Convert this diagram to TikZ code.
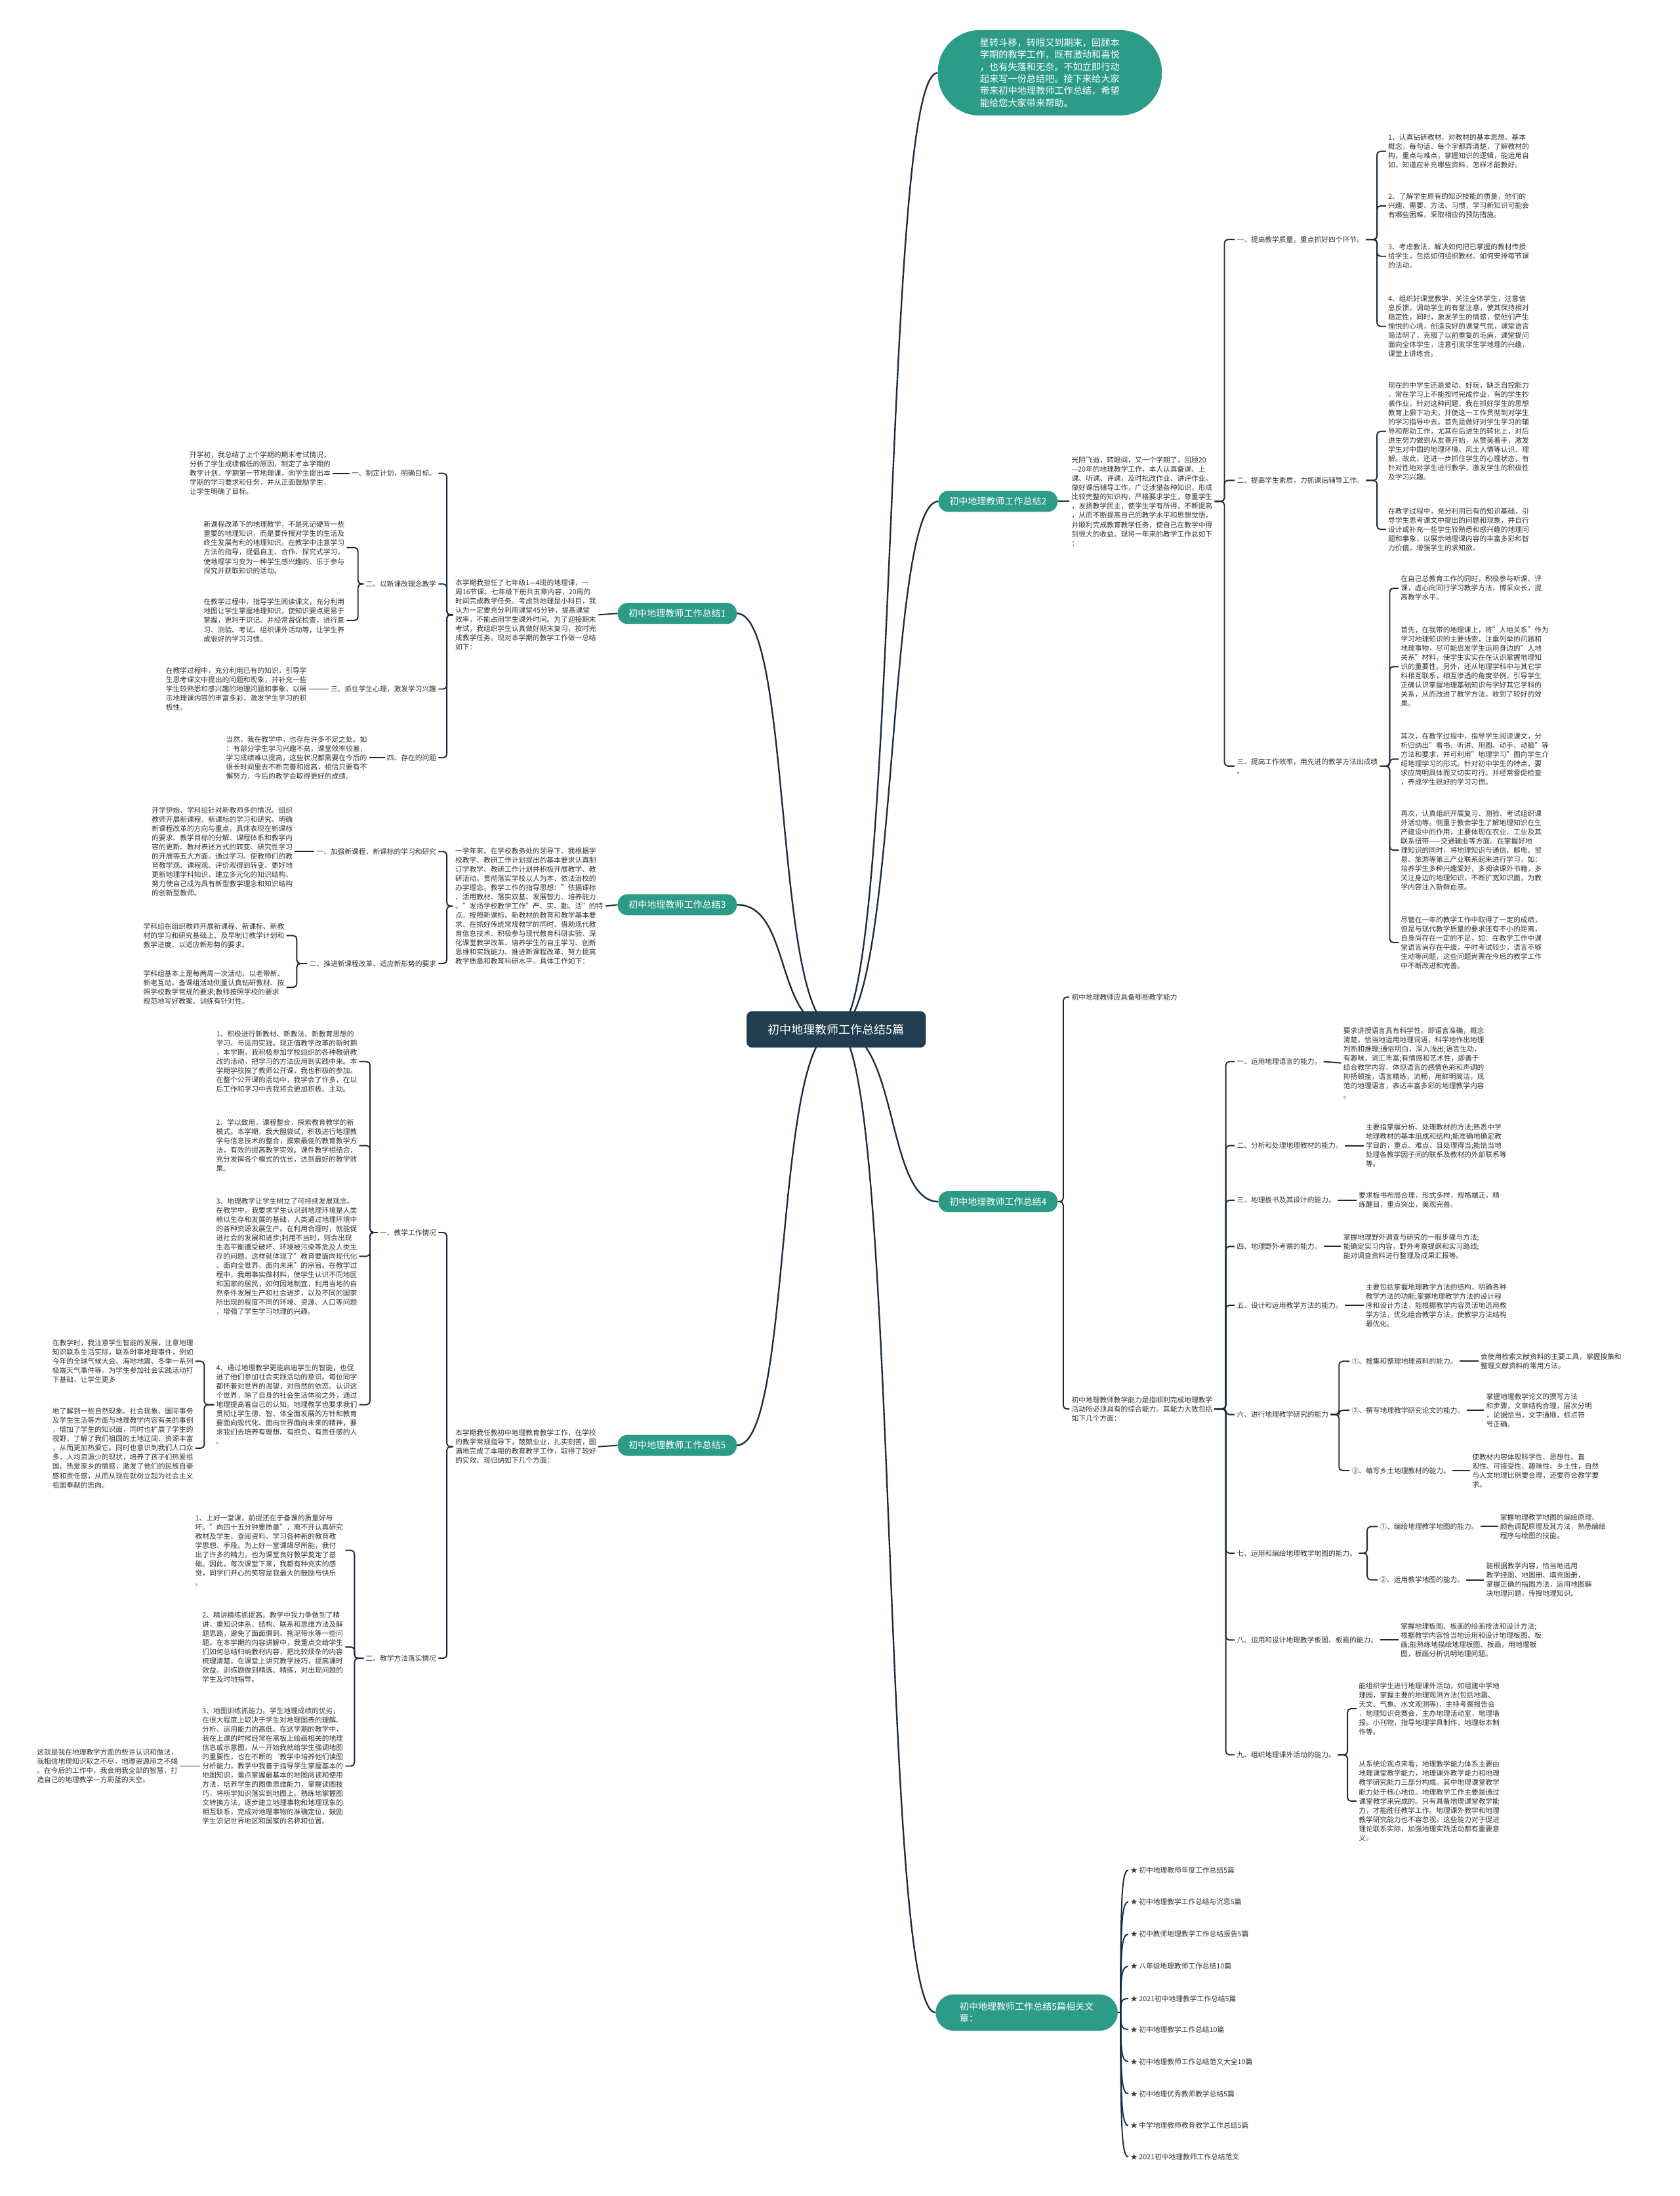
\documentclass[tikz,border=0pt]{standalone}
\usepackage{fontspec}
\setmainfont{Noto Sans CJK SC}
\usetikzlibrary{backgrounds}
\definecolor{mapink}{HTML}{333333}
\definecolor{mapline}{HTML}{1C2B39}
\definecolor{mapteal}{HTML}{2C9C89}
\definecolor{mapnavy}{HTML}{213D4F}
\tikzset{
  leaftext/.style={font=\fontsize{14.3}{18.7}\selectfont, text=mapink, align=left,
    inner xsep=1.5mm, inner ysep=0.5mm},
  tealbox/.style={fill=mapteal, text=white, rounded corners=7mm,
    font=\fontsize{18.7}{24.4}\selectfont, minimum width=85mm, minimum height=15mm,
    inner xsep=0mm, align=left},
  rootbox/.style={fill=mapnavy, text=white, rounded corners=4mm,
    font=\fontsize{24}{28}\selectfont, minimum width=128mm, minimum height=26mm},
  maplink/.style={draw=mapline, line width=0.9mm, rounded corners=2.5mm},
  mainlink/.style={draw=mapline, line width=1.1mm}
}
\begin{document}
\begin{tikzpicture}[x=1mm,y=-1mm]
  \useasboundingbox (0,0) rectangle (1199,1568);

  % root and first level
  \node[rootbox] (root) at (597,735) {初中地理教师工作总结5篇};
  \node[tealbox, minimum width=160mm, minimum height=61mm, rounded corners=30mm,
    font=\fontsize{18.9}{24.4}\selectfont] (intro) at (749.5,52)
    {星转斗移，转眼又到期末，回顾本\\学期的教学工作，既有激动和喜悦\\，也有失落和无奈。不如立即行动\\起来写一份总结吧。接下来给大家\\带来初中地理教师工作总结，希望\\能给您大家带来帮助。};
  \node[tealbox] (sum1) at (483.5,438) {初中地理教师工作总结1};
  \node[tealbox] (sum2) at (712.5,358) {初中地理教师工作总结2};
  \node[tealbox] (sum3) at (483.5,646) {初中地理教师工作总结3};
  \node[tealbox] (sum4) at (712.5,858) {初中地理教师工作总结4};
  \node[tealbox] (sum5) at (483.5,1032) {初中地理教师工作总结5};
  \node[tealbox, minimum width=130mm, minimum height=26mm, rounded corners=13mm] (rel) at (733,1437)
    {初中地理教师工作总结5篇相关文\\章：};

  % summary 1
  \node[leaftext, anchor=west] (b1intro) at (323.5,439) {本学期我担任了七年级1—4班的地理课，一\\周16节课。七年级下册共五章内容，20周的\\时间完成教学任务。考虑到地理是小科目，我\\认为一定要充分利用课堂45分钟，提高课堂\\效率，不能占用学生课外时间。为了迎接期末\\考试，我组织学生认真做好期末复习，按时完\\成教学任务。现对本学期的教学工作做一总结\\如下：};
  \node[leaftext, anchor=east] (b1l1) at (313,338) {一、制定计划，明确目标。};
  \node[leaftext, anchor=east] (b1l2) at (313,417) {二、以新课改理念教学};
  \node[leaftext, anchor=east] (b1l3) at (313,492) {三、抓住学生心理，激发学习兴趣};
  \node[leaftext, anchor=east] (b1l4) at (313,541) {四、存在的问题};
  \node[leaftext, anchor=east] (b1t1) at (237.5,338) {开学初，我总结了上个学期的期末考试情况，\\分析了学生成绩偏低的原因，制定了本学期的\\教学计划。学期第一节地理课，向学生提出本\\学期的学习要求和任务，并从正面鼓励学生，\\让学生明确了目标。};
  \node[leaftext, anchor=east] (b1t2a) at (247.5,391) {新课程改革下的地理教学，不是死记硬背一些\\重要的地理知识，而是要传授对学生的生活及\\终生发展有利的地理知识。在教学中注意学习\\方法的指导，提倡自主、合作、探究式学习，\\使地理学习变为一种学生感兴趣的、乐于参与\\探究并获取知识的活动。};
  \node[leaftext, anchor=east] (b1t2b) at (247.5,443) {在教学过程中，指导学生阅读课文，充分利用\\地图让学生掌握地理知识，使知识要点更易于\\掌握，更利于识记。并经常督促检查，进行复\\习、测验、考试、组织课外活动等，让学生养\\成很好的学习习惯。};
  \node[leaftext, anchor=east] (b1t3) at (220.5,492) {在教学过程中，充分利用已有的知识，引导学\\生思考课文中提出的问题和现象，并补充一些\\学生较熟悉和感兴趣的地理问题和事象，以展\\示地理课内容的丰富多彩，激发学生学习的积\\极性。};
  \node[leaftext, anchor=east] (b1t4) at (263.5,541) {当然，我在教学中，也存在许多不足之处。如\\：有部分学生学习兴趣不高，课堂效率较差，\\学习成绩难以提高，这些状况都需要在今后的\\很长时间里去不断完善和提高，相信只要有不\\懈努力，今后的教学会取得更好的成绩。};

  % summary 3
  \node[leaftext, anchor=west] (b3intro) at (323.5,647) {一学年来、在学校教务处的领导下、我根据学\\校教学、教研工作计划提出的基本要求认真制\\订学教学、教研工作计划并积极开展教学、教\\研活动。贯彻落实学校以人为本、依法治校的\\办学理念。教学工作的指导思想："依据课标\\、活用教材、落实双基、发展智力、培养能力\\。"发扬学校教学工作"严、实、勤、活"的特\\点。按照新课标、新教材的教育和教学基本要\\求、在抓好传统常规教学的同时、借助现代教\\育信息技术、积极参与现代教育科研实验、深\\化课堂教学改革、培养学生的自主学习、创新\\思维和实践能力、推进新课程改革、努力提高\\教学质量和教育科研水平。具体工作如下：};
  \node[leaftext, anchor=east] (b3l1) at (313,608) {一、加强新课程、新课标的学习和研究};
  \node[leaftext, anchor=east] (b3l2) at (313,688) {二、推进新课程改革、适应新形势的要求};
  \node[leaftext, anchor=east] (b3t1) at (210.5,608) {开学伊始、学科组针对新教师多的情况、组织\\教师开展新课程、新课标的学习和研究、明确\\新课程改革的方向与重点。具体表现在新课标\\的要求、教学目标的分解、课程体系和教学内\\容的更新、教材表述方式的转变、研究性学习\\的开展等五大方面。通过学习、使教师们的教\\育教学观、课程观、评价观得到转变、更好地\\更新地理学科知识、建立多元化的知识结构、\\努力使自己成为具有新型教学理念和知识结构\\的创新型教师。};
  \node[leaftext, anchor=east] (b3t2a) at (204.5,668) {学科组在组织教师开展新课程、新课标、新教\\材的学习和研究基础上、及早制订教学计划和\\教学进度、以适应新形势的要求。};
  \node[leaftext, anchor=east] (b3t2b) at (204.5,705) {学科组基本上是每两周一次活动、以老带新、\\新老互动。备课组活动侧重认真钻研教材、按\\照学校教学常规的要求;教师按照学校的要求\\规范地写好教案、训练有针对性。};

  % summary 5
  \node[leaftext, anchor=west] (b5intro) at (323.5,1033) {本学期我任教初中地理教育教学工作，在学校\\的教学常规指导下，兢兢业业，扎实刻苦，圆\\满地完成了本期的教育教学工作，取得了较好\\的实效。现归纳如下几个方面：};
  \node[leaftext, anchor=east] (b5l1) at (313,880) {一、教学工作情况};
  \node[leaftext, anchor=east] (b5l2) at (313,1184) {二、教学方法落实情况};
  \node[leaftext, anchor=east] (b5t1) at (256.5,758) {1、积极进行新教材、新教法、新教育思想的\\学习、与运用实践。现正值教学改革的新时期\\，本学期，我积极参加学校组织的各种教研教\\改的活动，把学习的方法应用到实践中来。本\\学期学校搞了教师公开课，我也积极的参加。\\在整个公开课的活动中，我学会了许多，在以\\后工作和学习中去我将会更加积极、主动。};
  \node[leaftext, anchor=east] (b5t2) at (256.5,818) {2、学以致用，课程整合，探索教育教学的新\\模式。本学期，我大胆尝试，积极进行地理教\\学与信息技术的整合，摸索最佳的教育教学方\\法，有效的提高教学实效。课件教学相结合，\\充分发挥各个模式的优长，达到最好的教学效\\果。};
  \node[leaftext, anchor=east] (b5t3) at (256.5,897) {3、地理教学让学生树立了可持续发展观念。\\在教学中，我要求学生认识到地理环境是人类\\赖以生存和发展的基础，人类通过地理环境中\\的各种资源发展生产。在利用合理时，就能促\\进社会的发展和进步;利用不当时，则会出现\\生态平衡遭受破坏、环境被污染等危及人类生\\存的问题。这样就体现了"教育要面向现代化\\、面向全世界、面向未来"的宗旨。在教学过\\程中，我用事实做材料，使学生认识不同地区\\和国家的居民，如何因地制宜，利用当地的自\\然条件发展生产和社会进步，以及不同的国家\\所出现的程度不同的环境、资源、人口等问题\\，增强了学生学习地理的兴趣。};
  \node[leaftext, anchor=east] (b5t4) at (256.5,1003) {4、通过地理教学更能启迪学生的智能，也促\\进了他们参加社会实践活动的意识。每位同学\\都怀着对世界的渴望，对自然的依恋。认识这\\个世界，除了自身的社会生活体验之外，通过\\地理提高着自己的认知。地理教学也要求我们\\贯彻让学生德、智、体全面发展的方针和教育\\要面向现代化、面向世界面向未来的精神，要\\求我们去培养有理想、有抱负、有责任感的人\\。};
  \node[leaftext, anchor=east] (b5t4a) at (139.5,972) {在教学时，我注意学生智能的发展，注意地理\\知识联系生活实际，联系时事地理事件，例如\\今年的全球气候大会、海地地震、冬季一系列\\极端天气事件等。为学生参加社会实践活动打\\下基础，让学生更多};
  \node[leaftext, anchor=east] (b5t4b) at (139.5,1034) {地了解到一些自然现象、社会现象、国际事务\\及学生生活等方面与地理教学内容有关的事例\\，增加了学生的知识面，同时也扩展了学生的\\视野，了解了我们祖国的土地辽阔、资源丰富\\，从而更加热爱它。同时也意识到我们人口众\\多，人均资源少的现状，培养了孩子们热爱祖\\国、热爱家乡的情感，激发了他们的民族自豪\\感和责任感，从而从现在就树立起为社会主义\\祖国奉献的志向。};
  \node[leaftext, anchor=east] (b5m1) at (246.5,1107) {1、上好一堂课，前提还在于备课的质量好与\\坏。"向四十五分钟要质量"，离不开认真研究\\教材及学生、查阅资料、学习各种新的教育教\\学思想、手段。为上好一堂课竭尽所能，我付\\出了许多的精力，也为课堂良好教学奠定了基\\础。因此，每次课堂下来，我都有种充实的感\\觉，同学们开心的笑容是我最大的鼓励与快乐\\。};
  \node[leaftext, anchor=east] (b5m2) at (246.5,1176) {2、精讲精练抓提高。教学中我力争做到了精\\讲，重知识体系、结构、联系和思维方法及解\\题思路，避免了面面俱到、拖泥带水等一些问\\题。在本学期的内容讲解中，我重点交给学生\\们如何总结归纳教材内容，把比较烦杂的内容\\梳理清楚。在课堂上讲究教学技巧，提高课时\\效益。训练题做到精选、精练，对出现问题的\\学生及时地指导。};
  \node[leaftext, anchor=east] (b5m3) at (246.5,1261) {3、地图训练抓能力。学生地理成绩的优劣，\\在很大程度上取决于学生对地理图表的理解、\\分析、运用能力的高低。在这学期的教学中，\\我在上课的时候经常在黑板上绘画相关的地理\\信息或示意图，从一开始我就给学生强调地图\\的重要性，也在不断的`教学中培养他们读图\\分析能力。教学中我善于指导学生掌握基本的\\地图知识，重点掌握最基本的地图阅读和使用\\方法，培养学生的图像思维能力，掌握读图技\\巧，将所学知识落实到地图上。熟练地掌握图\\文转换方法，逐步建立地理事物和地理现象的\\相互联系，完成对地理事物的准确定位，鼓励\\学生识记世界地区和国家的名称和位置。};
  \node[leaftext, anchor=east] (b5m3a) at (128.5,1261) {这就是我在地理教学方面的些许认识和做法，\\我相信地理知识取之不尽，地理资源用之不竭\\。在今后的工作中，我会用我全部的智慧，打\\造自己的地理教学一方蔚蓝的天空。};

  % summary 2
  \node[leaftext, anchor=west] (b2intro) at (763.5,358) {光阴飞逝，转眼间，又一个学期了，回顾20\\—20年的地理教学工作，本人认真备课、上\\课、听课、评课，及时批改作业、讲评作业，\\做好课后辅导工作，广泛涉猎各种知识，形成\\比较完整的知识构，严格要求学生，尊重学生\\，发扬教学民主，使学生学有所得，不断提高\\，从而不断提高自己的教学水平和思想觉悟，\\并顺利完成教育教学任务，使自己在教学中得\\到很大的收益。现将一年来的教学工作总如下\\：};
  \node[leaftext, anchor=west] (b2l1) at (881.5,171) {一、提高教学质量，重点抓好四个环节。};
  \node[leaftext, anchor=west] (b2l2) at (881.5,343) {二、提高学生素质，力抓课后辅导工作。};
  \node[leaftext, anchor=west] (b2l3) at (881.5,547) {三、提高工作效率，用先进的教学方法出成绩\\。};
  \node[leaftext, anchor=west] (b2t1a) at (989.5,108) {1、认真钻研教材，对教材的基本思想、基本\\概念，每句话、每个字都弄清楚，了解教材的\\构，重点与难点，掌握知识的逻辑，能运用自\\如，知道应补充哪些资料，怎样才能教好。};
  \node[leaftext, anchor=west] (b2t1b) at (989.5,147) {2、了解学生原有的知识技能的质量，他们的\\兴趣、需要、方法、习惯，学习新知识可能会\\有哪些困难，采取相应的预防措施。};
  \node[leaftext, anchor=west] (b2t1c) at (989.5,183) {3、考虑教法，解决如何把已掌握的教材传授\\给学生，包括如何组织教材、如何安排每节课\\的活动。};
  \node[leaftext, anchor=west] (b2t1d) at (989.5,233) {4、组织好课堂教学，关注全体学生，注意信\\息反馈，调动学生的有意注意，使其保持相对\\稳定性，同时，激发学生的情感，使他们产生\\愉悦的心境，创造良好的课堂气氛，课堂语言\\简洁明了，克服了以前重复的毛病，课堂提问\\面向全体学生，注意引发学生学地理的兴趣，\\课堂上讲练合。};
  \node[leaftext, anchor=west] (b2t2a) at (989.5,308) {现在的中学生还是爱动、好玩，缺乏自控能力\\，常在学习上不能按时完成作业，有的学生抄\\袭作业，针对这种问题，我在抓好学生的思想\\教育上狠下功夫，并使这一工作贯彻到对学生\\的学习指导中去。首先是做好对学生学习的辅\\导和帮助工作，尤其在后进生的转化上，对后\\进生努力做到从友善开始，从赞美着手，激发\\学生对中国的地理环境、风土人情等认识、理\\解。故此，还进一步抓住学生的心理状态，有\\针对性地对学生进行教学，激发学生的积极性\\及学习兴趣。};
  \node[leaftext, anchor=west] (b2t2b) at (989.5,378) {在教学过程中，充分利用已有的知识基础，引\\导学生思考课文中提出的问题和现象，并自行\\设计或补充一些学生较熟悉和感兴趣的地理问\\题和事象，以展示地理课内容的丰富多彩和智\\力价值，增强学生的求知欲。};
  \node[leaftext, anchor=west] (b2t3a) at (998.5,420) {在自己总教育工作的同时，积极参与听课、评\\课，虚心向同行学习教学方法，博采众长，提\\高教学水平。};
  \node[leaftext, anchor=west] (b2t3b) at (998.5,476) {首先，在我带的地理课上，将"人地关系"作为\\学习地理知识的主要线索，注重列举的问题和\\地理事物，尽可能启发学生运用身边的"人地\\关系"材料，使学生实实在在认识掌握地理知\\识的重要性。另外，还从地理学科中与其它学\\科相互联系，相互渗透的角度举例，引导学生\\正确认识掌握地理基础知识与学好其它学科的\\关系，从而改进了教学方法，收到了较好的效\\果。};
  \node[leaftext, anchor=west] (b2t3c) at (998.5,542) {其次，在教学过程中，指导学生阅读课文，分\\析归纳出"看书、听讲、用图、动手、动脑"等\\方法和要求，并可利用"地理学习"图向学生介\\绍地理学习的形式。针对初中学生的特点，要\\求应简明具体而又切实可行。并经常督促检查\\，养成学生很好的学习习惯。};
  \node[leaftext, anchor=west] (b2t3d) at (998.5,607) {再次，认真组织开展复习、测验、考试组织课\\外活动等。侧重于教会学生了解地理知识在生\\产建设中的作用，主要体现在农业、工业及其\\联系纽带——交通输业等方面。在掌握好地\\理知识的同时，将地理知识与通信、邮电、贸\\易、旅游等第三产业联系起来进行学习，如：\\培养学生多种兴趣爱好，多阅读课外书籍，多\\关注身边的地理知识，不断扩宽知识面，为教\\学内容注入新鲜血液。};
  \node[leaftext, anchor=west] (b2t3e) at (998.5,673) {尽管在一年的教学工作中取得了一定的成绩，\\但是与现代教学质量的要求还有不小的距离，\\自身尚存在一定的不足，如：在教学工作中课\\堂语言尚存在平缓，平时考试较少，语言不够\\生动等问题，这些问题尚需在今后的教学工作\\中不断改进和完善。};

  % summary 4
  \node[leaftext, anchor=west] (b4a) at (763.5,712) {初中地理教师应具备哪些教学能力};
  \node[leaftext, anchor=west] (b4b) at (763.5,1006) {初中地理教师教学能力是指顺利完成地理教学\\活动所必须具有的综合能力。其能力大致包括\\如下几个方面：};
  \node[leaftext, anchor=west] (b4l1) at (881.5,758) {一、运用地理语言的能力。};
  \node[leaftext, anchor=west] (b4l2) at (881.5,818) {二、分析和处理地理教材的能力。};
  \node[leaftext, anchor=west] (b4l3) at (881.5,857) {三、地理板书及其设计的能力。};
  \node[leaftext, anchor=west] (b4l4) at (881.5,890) {四、地理野外考察的能力。};
  \node[leaftext, anchor=west] (b4l5) at (881.5,932) {五、设计和运用教学方法的能力。};
  \node[leaftext, anchor=west] (b4l6) at (881.5,1010) {六、进行地理教学研究的能力};
  \node[leaftext, anchor=west] (b4l7) at (881.5,1109) {七、运用和编绘地理教学地图的能力。};
  \node[leaftext, anchor=west] (b4l8) at (881.5,1171) {八、运用和设计地理教学板图、板画的能力。};
  \node[leaftext, anchor=west] (b4l9) at (881.5,1253) {九、组织地理课外活动的能力。};
  \node[leaftext, anchor=west] (b4t1) at (957.5,759) {要求讲授语言具有科学性。即语言准确，概念\\清楚，恰当地运用地理词语，科学地作出地理\\判断和推理;通俗明白，深入浅出;语言生动，\\有趣味，词汇丰富;有情感和艺术性，即善于\\结合教学内容，体现语言的感情色彩和声调的\\抑扬顿挫，语言精练，流畅，用鲜明简洁，规\\范的地理语言，表达丰富多彩的地理教学内容\\。};
  \node[leaftext, anchor=west] (b4t2) at (973.5,818) {主要指掌握分析、处理教材的方法;熟悉中学\\地理教材的基本组成和结构;能准确地确定教\\学目的，重点、难点、且处理得当;能恰当地\\处理各教学因子间的联系及教材的外部联系等\\等。};
  \node[leaftext, anchor=west] (b4t3) at (968.5,857) {要求板书布局合理，形式多样，规格端正，精\\练醒目，重点突出，美观完善。};
  \node[leaftext, anchor=west] (b4t4) at (957.5,890) {掌握地理野外调查与研究的一般步骤与方法;\\能确定实习内容，野外考察提纲和实习路线;\\能对调查资料进行整理及成果汇报等。};
  \node[leaftext, anchor=west] (b4t5) at (973.5,932) {主要包括掌握地理教学方法的结构，明确各种\\教学方法的功能;掌握地理教学方法的设计程\\序和设计方法，能根据教学内容灵活地选用教\\学方法，优化组合教学方法，使教学方法结构\\最优化。};
  \node[leaftext, anchor=west] (b4s61) at (963.5,972) {①、搜集和整理地理资料的能力。};
  \node[leaftext, anchor=west] (b4s62) at (963.5,1007) {②、撰写地理教学研究论文的能力。};
  \node[leaftext, anchor=west] (b4s63) at (963.5,1050) {③、编写乡土地理教材的能力。};
  \node[leaftext, anchor=west] (b4t61) at (1055.5,972) {会使用检索文献资料的主要工具，掌握搜集和\\整理文献资料的常用方法。};
  \node[leaftext, anchor=west] (b4t62) at (1059.5,1007) {掌握地理教学论文的撰写方法\\和步骤，文章结构合理，层次分明\\，论据恰当，文字通顺，标点符\\号正确。};
  \node[leaftext, anchor=west] (b4t63) at (1049.5,1050) {使教材内容体现科学性、思想性、直\\观性、可接受性、趣味性、乡土性，自然\\与人文地理比例要合理，还要符合教学要\\求。};
  \node[leaftext, anchor=west] (b4s71) at (983.5,1090) {①、编绘地理教学地图的能力。};
  \node[leaftext, anchor=west] (b4s72) at (983.5,1128) {②、运用教学地图的能力。};
  \node[leaftext, anchor=west] (b4t71) at (1069.5,1090) {掌握地理教学地图的编绘原理、\\颜色调配原理及其方法，熟悉编绘\\程序与绘图的技能。};
  \node[leaftext, anchor=west] (b4t72) at (1059.5,1128) {能根据教学内容，恰当地选用\\教学挂图、地图册、填充图册，\\掌握正确的指图方法，运用地图解\\决地理问题，传授地理知识。};
  \node[leaftext, anchor=west] (b4t8) at (998.5,1171) {掌握地理板图、板画的绘画技法和设计方法;\\根据教学内容恰当地运用和设计地理板图、板\\画;能熟练地描绘地理板图、板画，用地理板\\图，板画分析说明地理问题。};
  \node[leaftext, anchor=west] (b4t9a) at (968.5,1220) {能组织学生进行地理课外活动，如组建中学地\\理园，掌握主要的地理观测方法(包括地震、\\天文、气象、水文观测等)，主持考察报告会\\，地理知识竞赛会，主办地理活动室，地理墙\\报。小刊物，指导地理学具制作，地理标本制\\作等。};
  \node[leaftext, anchor=west] (b4t9b) at (968.5,1286) {从系统论观点来看，地理教学能力体系主要由\\地理课堂教学能力，地理课外教学能力和地理\\教学研究能力三部分构成。其中地理课堂教学\\能力处于核心地位。地理教学工作主要是通过\\课堂教学来完成的。只有具备地理课堂教学能\\力，才能胜任教学工作。地理课外教学和地理\\教学研究能力也不容忽视。这些能力对于促进\\理论联系实际，加强地理实践活动都有重要意\\义。};

  % related articles
  \foreach \i/\yy/\txt in {1/1335.4/初中地理教师年度工作总结5篇, 2/1358/初中地理教学工作总结与沉思5篇,
      3/1381/初中教师地理教学工作总结报告5篇, 4/1404/八年级地理教师工作总结10篇,
      5/1427/2021初中地理教学工作总结5篇, 6/1449/初中地理教学工作总结10篇,
      7/1472/初中地理教师工作总结范文大全10篇, 8/1495/初中地理优秀教师教学总结5篇,
      9/1517.6/中学地理教师教育教学工作总结5篇, 10/1540/2021初中地理教师工作总结范文} {
    \node[leaftext, anchor=west] (r\i) at (805.5,\yy) {★ \txt};
  }
  \coordinate (relhub) at ([xshift=2mm]rel.east);

  \begin{scope}[on background layer]
    \fill[white] (0,0) rectangle (1199,1568);
    % main branches
    \draw[mainlink] (root.center) .. controls +(45,0) and +(-40,0) .. (intro.west);
    \draw[mainlink] (root.center) .. controls +(45,0) and +(-38,0) .. (sum2.west);
    \draw[mainlink] (root.center) .. controls +(45,0) and +(-38,0) .. (sum4.west);
    \draw[mainlink] (root.center) .. controls +(45,0) and +(-40,0) .. (rel.west);
    \draw[mainlink] (root.center) .. controls +(-45,0) and +(40,0) .. (sum1.east);
    \draw[mainlink] (root.center) .. controls +(-45,0) and +(40,0) .. (sum3.east);
    \draw[mainlink] (root.center) .. controls +(-45,0) and +(40,0) .. (sum5.east);

    % summary 1
    \draw[maplink] (sum1.west) -- (b1intro.east);
    \foreach \n in {b1l1,b1l2,b1l3,b1l4}
      \draw[maplink] (b1intro.west) -- ++(-4.5,0) |- (\n.east);
    \draw[maplink] (b1l1.west) -- (b1t1.east);
    \draw[maplink] (b1l2.west) -- ++(-4,0) |- (b1t2a.east);
    \draw[maplink] (b1l2.west) -- ++(-4,0) |- (b1t2b.east);
    \draw[maplink] (b1l3.west) -- (b1t3.east);
    \draw[maplink] (b1l4.west) -- (b1t4.east);

    % summary 3
    \draw[maplink] (sum3.west) -- (b3intro.east);
    \draw[maplink] (b3intro.west) -- ++(-4.5,0) |- (b3l1.east);
    \draw[maplink] (b3intro.west) -- ++(-4.5,0) |- (b3l2.east);
    \draw[maplink] (b3l1.west) -- (b3t1.east);
    \draw[maplink] (b3l2.west) -- ++(-7.5,0) |- (b3t2a.east);
    \draw[maplink] (b3l2.west) -- ++(-7.5,0) |- (b3t2b.east);

    % summary 5
    \draw[maplink] (sum5.west) -- (b5intro.east);
    \draw[maplink] (b5intro.west) -- ++(-4.5,0) |- (b5l1.east);
    \draw[maplink] (b5intro.west) -- ++(-4.5,0) |- (b5l2.east);
    \foreach \n in {b5t1,b5t2,b5t3,b5t4}
      \draw[maplink] (b5l1.west) -- ++(-5.5,0) |- (\n.east);
    \draw[maplink] (b5t4.west) -- ++(-7,0) |- (b5t4a.east);
    \draw[maplink] (b5t4.west) -- ++(-7,0) |- (b5t4b.east);
    \foreach \n in {b5m1,b5m2,b5m3}
      \draw[maplink] (b5l2.west) -- ++(-6.5,0) |- (\n.east);
    \draw[maplink] (b5m3.west) -- (b5m3a.east);

    % summary 2
    \draw[maplink] (sum2.east) -- (b2intro.west);
    \foreach \n in {b2l1,b2l2,b2l3}
      \draw[maplink] (b2intro.east) -- ++(7,0) |- (\n.west);
    \foreach \n in {b2t1a,b2t1b,b2t1c,b2t1d}
      \draw[maplink] (b2l1.east) -- ++(8,0) |- (\n.west);
    \foreach \n in {b2t2a,b2t2b}
      \draw[maplink] (b2l2.east) -- ++(8,0) |- (\n.west);
    \foreach \n in {b2t3a,b2t3b,b2t3c,b2t3d,b2t3e}
      \draw[maplink] (b2l3.east) -- ++(7,0) |- (\n.west);

    % summary 4
    \draw[maplink] (sum4.east) -- ++(4,0) |- (b4a.west);
    \draw[maplink] (sum4.east) -- ++(4,0) |- (b4b.west);
    \foreach \n in {b4l1,b4l2,b4l3,b4l4,b4l5,b4l6,b4l7,b4l8,b4l9}
      \draw[maplink] (b4b.east) -- ++(8,0) |- (\n.west);
    \draw[maplink] (b4l1.east) -- (b4t1.west);
    \draw[maplink] (b4l2.east) -- (b4t2.west);
    \draw[maplink] (b4l3.east) -- (b4t3.west);
    \draw[maplink] (b4l4.east) -- (b4t4.west);
    \draw[maplink] (b4l5.east) -- (b4t5.west);
    \foreach \n in {b4s61,b4s62,b4s63}
      \draw[maplink] (b4l6.east) -- ++(6,0) |- (\n.west);
    \draw[maplink] (b4s61.east) -- (b4t61.west);
    \draw[maplink] (b4s62.east) -- (b4t62.west);
    \draw[maplink] (b4s63.east) -- (b4t63.west);
    \foreach \n in {b4s71,b4s72}
      \draw[maplink] (b4l7.east) -- ++(6,0) |- (\n.west);
    \draw[maplink] (b4s71.east) -- (b4t71.west);
    \draw[maplink] (b4s72.east) -- (b4t72.west);
    \draw[maplink] (b4l8.east) -- (b4t8.west);
    \draw[maplink] (b4l9.east) -- ++(7,0) |- (b4t9a.west);
    \draw[maplink] (b4l9.east) -- ++(7,0) |- (b4t9b.west);

    % related articles
    \draw[maplink] (rel.east) -- (relhub);
    \foreach \i/\yy in {1/1335.4,2/1358,3/1381,4/1404,5/1427,6/1449,7/1472,8/1495,9/1517.6,10/1540} {
      \pgfmathsetmacro\dd{0.75*abs(\yy-1437)}
      \pgfmathsetmacro\aa{\yy<1437 ? 90 : 270}
      \draw[maplink] (relhub) to[out=\aa, in=180, out distance=\dd mm, in distance=5mm] (r\i.west);
    }
  \end{scope}
\end{tikzpicture}
\end{document}
